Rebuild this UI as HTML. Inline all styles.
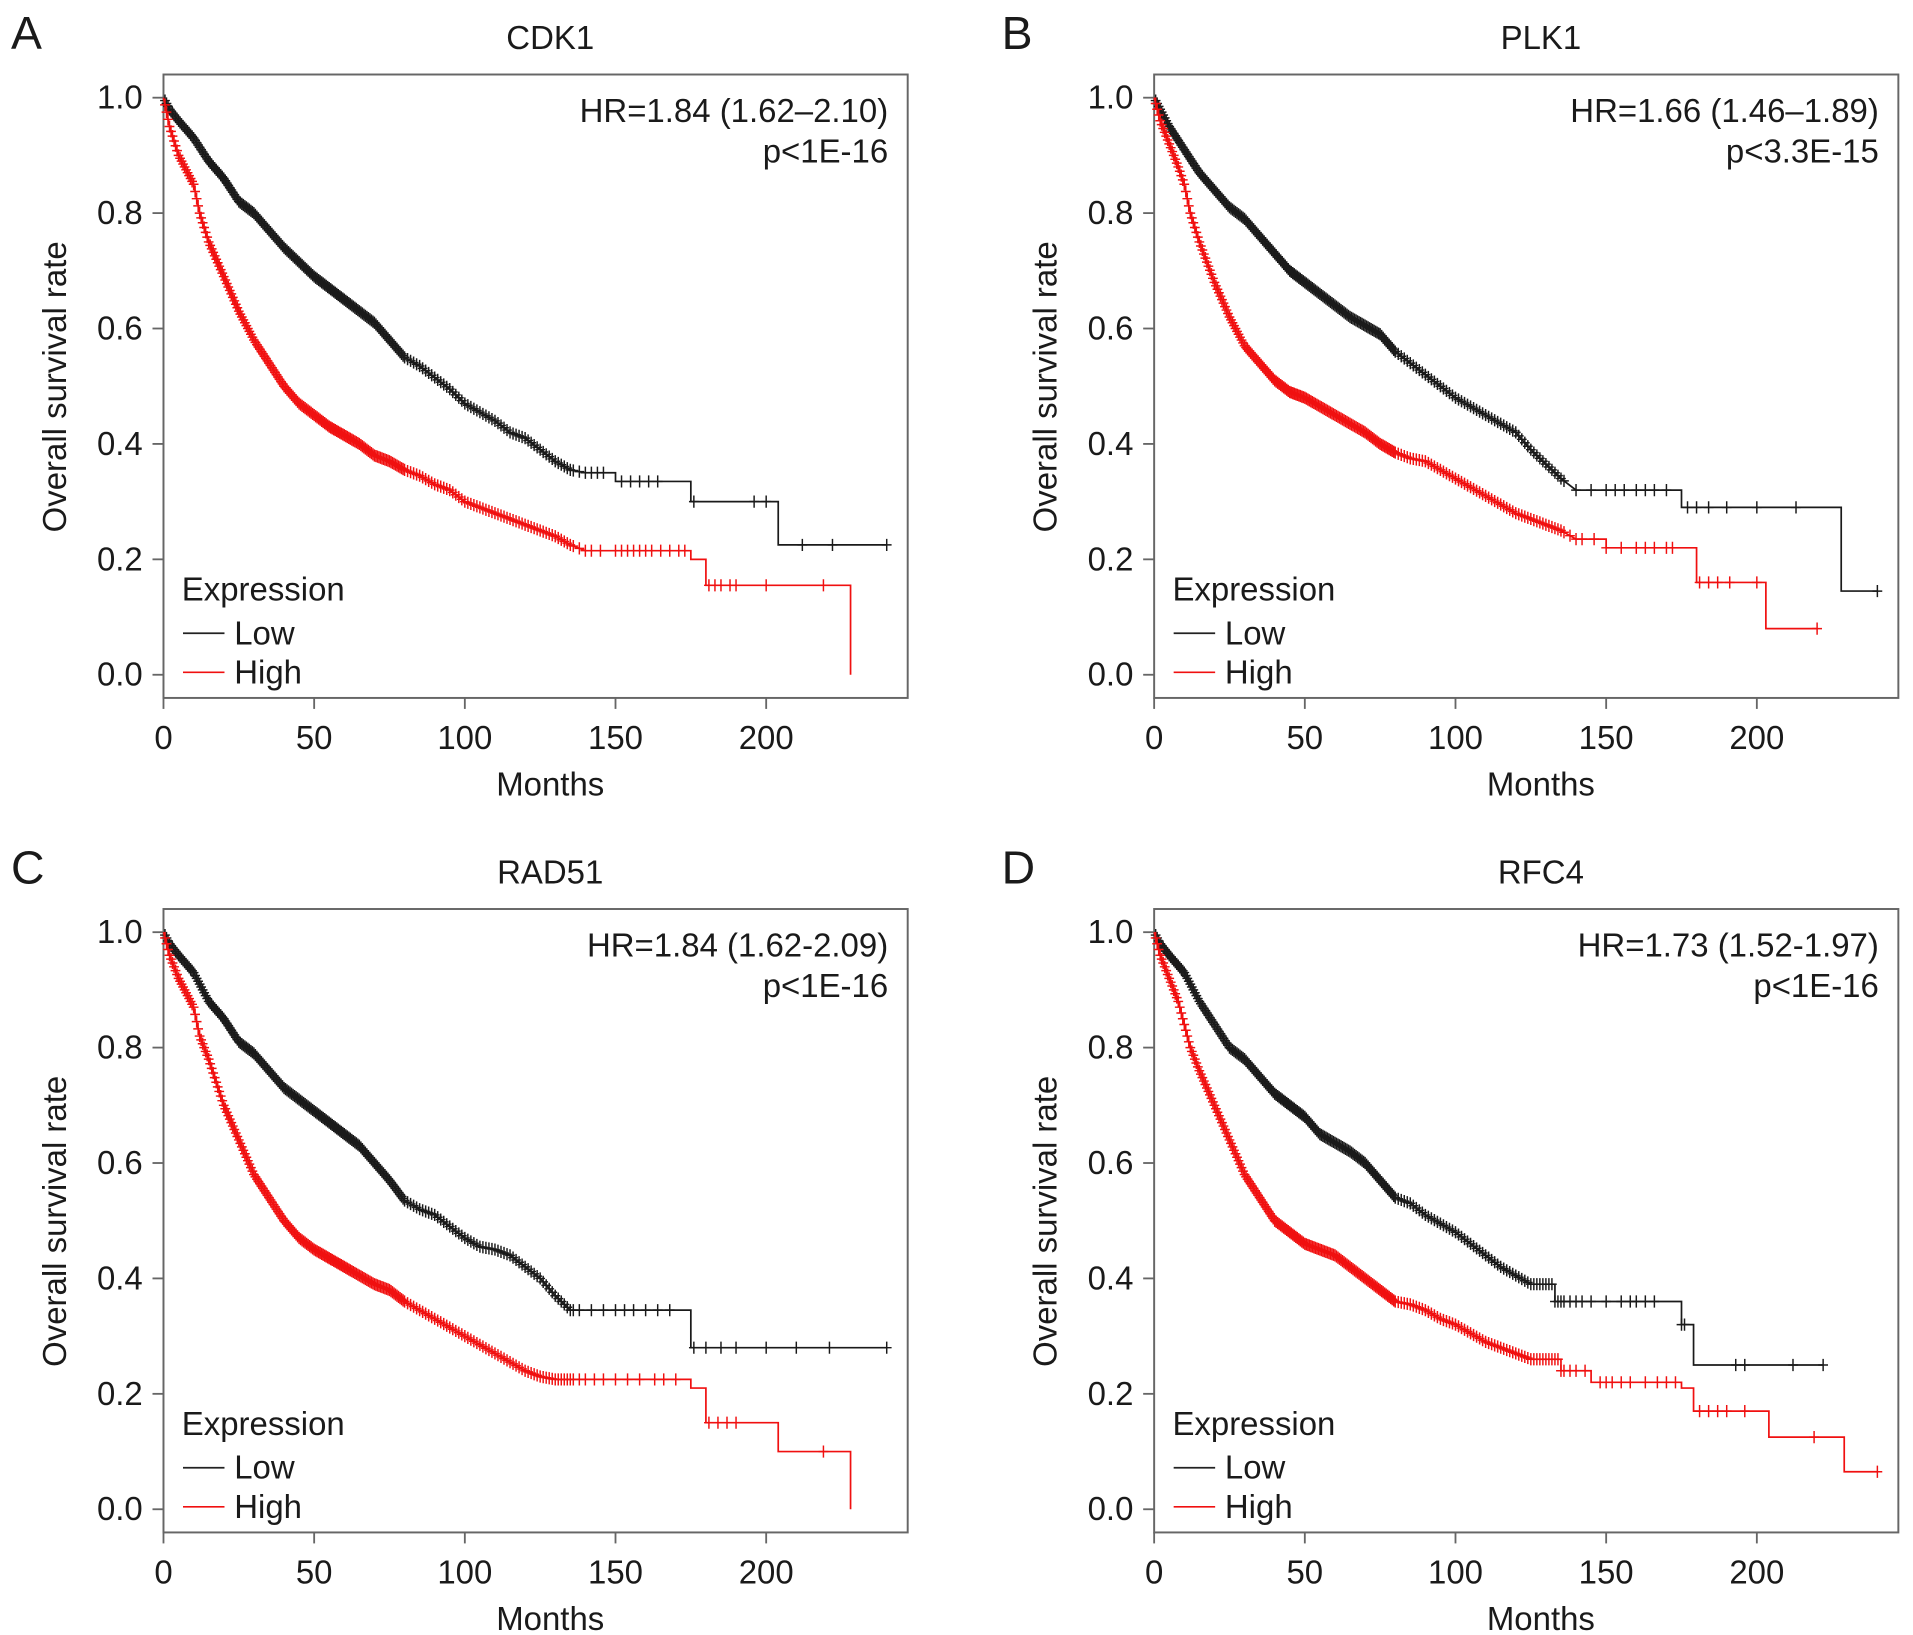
<!DOCTYPE html>
<html><head><meta charset="utf-8"><title>Kaplan-Meier survival curves</title>
<style>
html,body{margin:0;padding:0;background:#fff;}
svg{display:block;font-family:"Liberation Sans",Arial,sans-serif;}
</style></head>
<body>
<svg id="fig" width="1913" height="1635" viewBox="0 0 1568 1340" xmlns="http://www.w3.org/2000/svg"></svg>
<script>
// ---- data ----
const panelLetters = ["A","B","C","D"];
const geneNames = ["CDK1","PLK1","RAD51","RFC4"];
const hrLabels = ["HR=1.84 (1.62\u20132.10)","HR=1.66 (1.46\u20131.89)","HR=1.84 (1.62-2.09)","HR=1.73 (1.52-1.97)"];
const pLabels = ["p<1E-16","p<3.3E-15","p<1E-16","p<1E-16"];
const xTicks = [0,50,100,150,200];
const yTicks = [0,0.2,0.4,0.6,0.8,1.0];
const yTickLabels = ["0.0","0.2","0.4","0.6","0.8","1.0"];

const lowTimesA = [0,2,5,10,15,20,25,30,35,40,45,50,55,60,65,70,75,80,85,90,95,100,105,110,115,120,125,130,135,140,150,175,204];
const lowSurvA  = [1,.98,.96,.93,.89,.86,.82,.80,.77,.74,.715,.69,.67,.65,.63,.61,.58,.55,.535,.515,.495,.47,.455,.44,.42,.41,.39,.37,.355,.35,.335,.30,.225];
const lowEndA = 240;
const highTimesA = [0,2,5,10,12,15,20,25,30,35,40,45,50,55,60,65,70,75,80,85,90,95,100,105,110,115,120,125,130,135,140,175,180,228];
const highSurvA  = [1,.95,.90,.85,.80,.75,.69,.63,.58,.54,.50,.47,.45,.43,.415,.40,.38,.37,.355,.345,.33,.32,.30,.29,.28,.27,.26,.25,.24,.225,.215,.20,.155,0];
const highEndA = 228;

const lowTimesB = [0,2,5,10,15,20,25,30,35,40,45,50,55,60,65,70,75,80,85,90,95,100,105,110,115,120,125,130,135,140,175,228];
const lowSurvB  = [1,.98,.95,.91,.87,.84,.81,.79,.76,.73,.70,.68,.66,.64,.62,.605,.59,.56,.54,.52,.50,.48,.465,.45,.435,.42,.39,.365,.34,.32,.29,.145];
const lowEndB = 240;
const highTimesB = [0,2,5,8,10,12,15,20,25,30,35,40,45,50,55,60,65,70,75,80,85,90,95,100,105,110,115,120,125,130,135,140,150,175,180,203];
const highSurvB  = [1,.96,.92,.88,.85,.80,.75,.68,.62,.57,.54,.51,.49,.48,.465,.45,.435,.42,.40,.385,.375,.37,.355,.34,.325,.31,.295,.28,.27,.26,.25,.235,.22,.22,.16,.08];
const highEndB = 220;

const lowTimesC = [0,2,5,10,15,20,25,30,35,40,45,50,55,60,65,70,75,80,85,90,95,100,105,110,115,120,125,130,135,175];
const lowSurvC  = [1,.98,.96,.93,.88,.85,.81,.79,.76,.73,.71,.69,.67,.65,.63,.60,.57,.535,.52,.51,.49,.47,.455,.45,.44,.42,.40,.37,.345,.28];
const lowEndC = 240;
const highTimesC = [0,2,5,8,10,12,15,20,25,30,35,40,45,50,55,60,65,70,75,80,85,90,95,100,105,110,115,120,125,130,175,180,204,228];
const highSurvC  = [1,.96,.92,.89,.87,.82,.78,.70,.64,.58,.54,.50,.47,.45,.435,.42,.405,.39,.38,.36,.345,.33,.315,.30,.285,.27,.255,.24,.23,.225,.21,.15,.10,0];
const highEndC = 228;

const lowTimesD = [0,2,5,10,15,20,25,30,35,40,45,50,55,60,65,70,75,80,85,90,95,100,105,110,115,120,125,133,175,179];
const lowSurvD  = [1,.98,.96,.93,.88,.84,.80,.78,.75,.72,.70,.68,.65,.635,.62,.60,.57,.54,.53,.51,.495,.48,.46,.44,.42,.405,.39,.36,.32,.25];
const lowEndD = 222;
const highTimesD = [0,2,5,8,10,12,15,20,25,30,35,40,45,50,55,60,65,70,75,80,85,90,95,100,105,110,115,120,125,135,145,175,179,204,229];
const highSurvD  = [1,.96,.92,.88,.84,.80,.76,.70,.64,.58,.54,.50,.48,.46,.45,.44,.42,.40,.38,.36,.355,.345,.33,.32,.305,.29,.28,.27,.26,.24,.22,.21,.17,.125,.065];
const highEndD = 240;

const denseCensor = [0.5,1,1.5,2,2.5,3,3.5,4,4.5,5,5.5,6,6.5,7,7.5,8,8.5,9,9.5,10,10.5,11,11.5,12,12.5,13,13.5,14,14.5,15,15.5,16,16.5,17,17.5,18,18.5,19,19.5,20,20.5,21,21.5,22,22.5,23,23.5,24,24.5,25,25.5,26,26.5,27,27.5,28,28.5,29,29.5,30,30.5,31,31.5,32,32.5,33,33.5,34,34.5,35,35.5,36,36.5,37,37.5,38,38.5,39,39.5,40,40.5,41,41.5,42,42.5,43,43.5,44,44.5,45,45.5,46,46.5,47,47.5,48,48.5,49,49.5,50,50.5,51,51.5,52,52.5,53,53.5,54,54.5,55,55.5,56,56.5,57,57.5,58,58.5,59,59.5,60,60.5,61,61.5,62,62.5,63,63.5,64,64.5,65,65.5,66,66.5,67,67.5,68,68.5,69,69.5,70,70.5,71,71.5,72,72.5,73,73.5,74,74.5,75,75.5,76,76.5,77,77.5,78,78.5,79,79.5,80,81,82,83,84,85,86,87,88,89,90,91,92,93,94,95,96,97,98,99,100,101,102,103,104,105,106,107,108,109,110,111,112,113,114,115,116,117,118,119,120,121,122,123,124,125,126,127,128,129,130,131,132,133,134,135,136];
const lowTailA = [138,140,142,144,146,152,155,158,161,164,176,196,200,212,222,240];
const highTailA = [138,140,142,145,150,152,154,156,158,160,162,165,168,171,173,181,183,185,188,190,200,219];
const lowTailB = [140,145,150,153,156,160,163,166,170,177,180,184,190,200,213,240];
const highTailB = [138,140,142,146,150,155,160,163,166,170,172,181,184,187,191,200,220];
const lowTailC = [138,142,146,150,153,156,160,164,168,176,180,185,190,200,210,221,240];
const highTailC = [138,140,143,146,150,154,158,163,166,170,181,184,187,190,219];
const lowTailD = [138,140,142,145,150,155,158,160,163,166,175,176,193,196,212,222];
const highTailD = [138,140,143,148,150,152,155,158,163,167,170,173,181,184,187,190,196,219,240];

const panelOrigins = [[134,61],[946,61],[134,745],[946,745]];
const lowT=[lowTimesA,lowTimesB,lowTimesC,lowTimesD], lowS=[lowSurvA,lowSurvB,lowSurvC,lowSurvD], lowE=[lowEndA,lowEndB,lowEndC,lowEndD];
const highT=[highTimesA,highTimesB,highTimesC,highTimesD], highS=[highSurvA,highSurvB,highSurvC,highSurvD], highE=[highEndA,highEndB,highEndC,highEndD];
const lowTail=[lowTailA,lowTailB,lowTailC,lowTailD], highTail=[highTailA,highTailB,highTailC,highTailD];

const NS="http://www.w3.org/2000/svg";
const svg=document.getElementById("fig");
const FS=27;
function mk(tag,attrs,parent){const e=document.createElementNS(NS,tag);for(const k in attrs)e.setAttribute(k,attrs[k]);parent.appendChild(e);return e;}
function txt(parent,x,y,s,size,anchor,extra){const t=mk("text",Object.assign({x:x,y:y,"font-size":size,"text-anchor":anchor||"start",fill:"#1a1a1a"},extra||{}),parent);t.textContent=s;return t;}
function smoothSeg(T,i){return T[i+1]-T[i]<=5 && T[i+1]<=145;}
function valAt(T,S,t){
  for(let i=0;i<T.length-1;i++){
    if(t>=T[i]&&t<T[i+1]){
      if(smoothSeg(T,i)) return S[i]+(S[i+1]-S[i])*(t-T[i])/(T[i+1]-T[i]);
      return S[i];
    }
  }
  return S[S.length-1];
}

for(let p=0;p<4;p++){
  const [ox,oy]=panelOrigins[p];
  const sx=t=>ox+t*2.47;
  const sy=s=>oy+19+(1-s)*473;
  const g=mk("g",{},svg);
  
  
  const L=txt(g,ox-125,oy-21,panelLetters[p],38,"start");
  
  
  const T=txt(g,ox+317,oy-21,geneNames[p],FS,"middle");
  
  
  const box=mk("rect",{x:ox,y:oy,width:610,height:511,fill:"none",stroke:"#666","stroke-width":1.6},g);
  
  
  for(let i=0;i<yTicks.length;i++){
    const y=sy(yTicks[i]);
    const tk=mk("line",{x1:ox-9,x2:ox,y1:y,y2:y,stroke:"#666","stroke-width":1.5},g);
    
    
    const tl=txt(g,ox-17,y+9,yTickLabels[i],FS,"end");
    
    
  }
  for(let i=0;i<xTicks.length;i++){
    const x=sx(xTicks[i]);
    const tk=mk("line",{x1:x,x2:x,y1:oy+511,y2:oy+520,stroke:"#666","stroke-width":1.5},g);
    
    
    const tl=txt(g,x,oy+553,String(xTicks[i]),FS,"middle");
    
    
  }
  const xt=txt(g,ox+317,oy+591,"Months",FS,"middle");
  
  
  const yc=oy+256;
  const yt=txt(g,ox-80,yc,"Overall survival rate",FS,"middle",{transform:"rotate(-90 "+(ox-80)+" "+yc+")"});
  
  
  const hr=txt(g,ox+594,oy+39,hrLabels[p],FS,"end");
  
  
  const pv=txt(g,ox+594,oy+72,pLabels[p],FS,"end");
  
  
  const lg=mk("g",{},g);
  
  
  const lt=txt(lg,ox+15,oy+431,"Expression",FS,"start");
  
  
  const l1=mk("line",{x1:ox+16,x2:ox+50,y1:oy+458,y2:oy+458,stroke:"#222","stroke-width":1.4},lg);
  
  
  const l1t=txt(lg,ox+58,oy+467,"Low",FS,"start");
  
  
  const l2=mk("line",{x1:ox+16,x2:ox+50,y1:oy+490,y2:oy+490,stroke:"#f01010","stroke-width":1.4},lg);
  
  
  const l2t=txt(lg,ox+58,oy+499,"High",FS,"start");
  
  
  const series=[
    {T:lowT[p],S:lowS[p],E:lowE[p],tail:lowTail[p],col:"#1a1a1a",name:"low"},
    {T:highT[p],S:highS[p],E:highE[p],tail:highTail[p],col:"#f01010",name:"high"}];
  for(const s of series){
    let d="M"+sx(s.T[0])+","+sy(s.S[0]);
    for(let i=1;i<s.T.length;i++){
      if(smoothSeg(s.T,i-1)) d+="L"+sx(s.T[i])+","+sy(s.S[i]);
      else d+="H"+sx(s.T[i])+"V"+sy(s.S[i]);
    }
    d+="H"+sx(s.E);
    const path=mk("path",{d:d,fill:"none",stroke:s.col,"stroke-width":1.4},g);
    
    
    const cg=mk("g",{stroke:s.col,"stroke-width":1.2},g);
    
    
    const all=denseCensor.concat(s.tail);
    for(const t of all){
      if(t>s.E)continue;
      const v=valAt(s.T,s.S,t);
      if(v<=0)continue;
      const x=sx(t),y=sy(v);
      const m=mk("path",{d:"M"+(x-4)+","+y+"H"+(x+4)+"M"+x+","+(y-5)+"V"+(y+5)},cg);
      
      
    }
  }
}
</script>
</body></html>
